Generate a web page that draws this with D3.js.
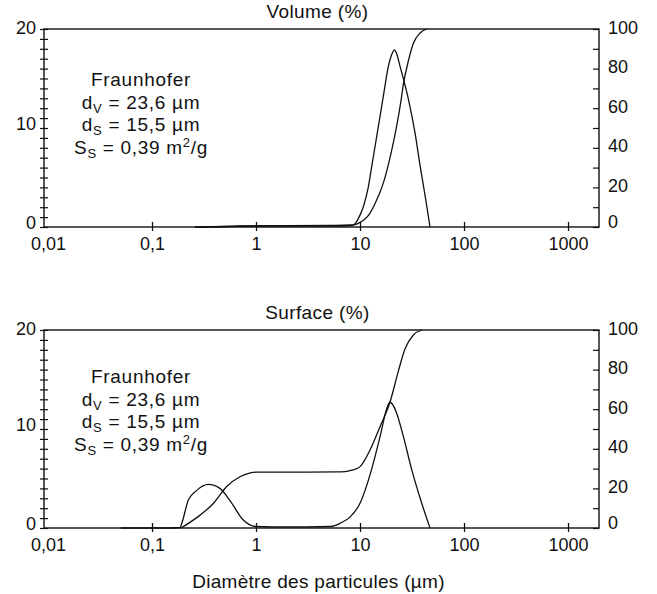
<!DOCTYPE html>
<html>
<head>
<meta charset="utf-8">
<script src="https://cdn.jsdelivr.net/npm/d3@7"></script>
<style>
	body { margin: 0; background: #fff; }
	svg text { font-family: "Liberation Sans", Arial, Helvetica, sans-serif; fill: #111; }
</style>
</head>
<body>
<div id="graphic"></div>
<script>
// particle diameter (µm) and values

// Volume panel - frequency (left axis, %)
const volFreqSize = [0.26, 0.5, 0.7, 1, 3, 7, 8.6, 10, 10.8, 12, 12.9, 14.5, 16.8, 18.7, 20.5, 21.4, 22.5, 24.3, 29.2, 33.8, 37.8, 42.8, 47.1];
const volFreqValue = [0, 0.05, 0.1, 0.1, 0.1, 0.1, 0.2, 1.2, 2.1, 4, 6.0, 9.2, 13.3, 16.2, 17.6, 17.9, 17.5, 16.2, 12.9, 9.5, 6.2, 2.8, 0];

// Volume panel - cumulative (right axis, %)
const volCumSize = [0.26, 1, 5, 8, 9.3, 10.5, 12, 14, 16.8, 20.2, 22.5, 24.8, 26.1, 29.2, 32.6, 37.8, 43.8];
const volCumValue = [0, 0.5, 0.8, 1, 1.5, 3, 5.7, 12, 22.4, 39, 51, 64, 72, 84, 92.8, 98, 100];

// Surface panel - frequency (left axis, %)
const surfFreqSize = [0.05, 0.15, 0.186, 0.193, 0.223, 0.269, 0.348, 0.45, 0.56, 0.755, 0.98, 1.5, 3, 5.2, 6.5, 8, 10, 12.9, 15.6, 18, 19.4, 20.5, 22.5, 26.1, 31.4, 39.2, 47.1];
const surfFreqValue = [0, 0, 0.05, 0.45, 2.8, 3.8, 4.4, 4.0, 2.8, 0.8, 0.15, 0.1, 0.1, 0.15, 0.5, 1.1, 2.5, 5.9, 9.25, 12, 12.7, 12.5, 11.6, 9.25, 5.9, 2.5, 0];

// Surface panel - cumulative (right axis, %)
const surfCumSize = [0.19, 0.29, 0.389, 0.52, 0.7, 0.85, 1.01, 3, 6, 7.2, 8.5, 10, 12.5, 15.6, 19.4, 23.3, 27.1, 32.6, 39.2];
const surfCumValue = [0, 6.5, 12.4, 20.8, 25.9, 27.6, 28.2, 28.2, 28.3, 28.5, 29.3, 31, 39.5, 51.3, 63.5, 79, 90.5, 97.5, 100];

// axes
const xDomain = [0.00915, 1985];
const xTickValues = [0.01, 0.1, 1, 10, 100, 1000];
const leftTicks = d3.range(0, 21, 1);
const leftLabels = [0, 10, 20];
const rightTicks = d3.range(0, 101, 10);
const rightLabels = [0, 20, 40, 60, 80, 100];

const panelTitles = ['Volume (%)', 'Surface (%)'];
const xAxisLabel = 'Diamètre des particules (µm)';

let graphic = d3.select('#graphic');

const width = 657, height = 594;
const margin = { left: 44, right: 58 };
const chartWidth = width - margin.left - margin.right;
const chartHeight = 198;
const panelTops = [29, 330];
const noteTops = [86, 383];

let svg = graphic.append('svg')
	.attr('width', width)
	.attr('height', height);

function toPoints(sizes, values) {
	return sizes.map((s, i) => ({ d: s, v: values[i] }));
}

// write the Fraunhofer note with sub/superscripts
function addNote(g, baseY) {
	const cx = 97;
	const lh = 22.5;
	const note = g.append('g')
		.attr('font-size', 19)
		.attr('letter-spacing', 0.7)
		.attr('text-anchor', 'middle');

	note.append('text').attr('x', cx).attr('y', baseY).text('Fraunhofer');

	let t = note.append('text').attr('x', cx).attr('y', baseY + lh);
	t.append('tspan').text('d');
	t.append('tspan').attr('dy', 4).attr('font-size', 13).text('V');
	t.append('tspan').attr('dy', -4).text(' = 23,6 µm');

	t = note.append('text').attr('x', cx).attr('y', baseY + lh * 2);
	t.append('tspan').text('d');
	t.append('tspan').attr('dy', 4).attr('font-size', 13).text('S');
	t.append('tspan').attr('dy', -4).text(' = 15,5 µm');

	t = note.append('text').attr('x', cx).attr('y', baseY + lh * 3);
	t.append('tspan').text('S');
	t.append('tspan').attr('dy', 4).attr('font-size', 13).text('S');
	t.append('tspan').attr('dy', -4).text(' = 0,39 m');
	t.append('tspan').attr('dy', -7).attr('font-size', 13).text('2');
	t.append('tspan').attr('dy', 7).text('/g');
}

function drawPanel(i, freq, cum) {
	let g = svg.append('g')
		.attr('transform', `translate(${margin.left},${panelTops[i]})`);

	const x = d3.scaleLog().domain(xDomain).range([0, chartWidth]);
	const yLeft = d3.scaleLinear().domain([0, 20]).range([chartHeight, 0]);
	const yRight = d3.scaleLinear().domain([0, 100]).range([chartHeight, 0]);

	//x axis, ticks crossing the line
	let xAxis = d3.axisBottom(x)
		.tickValues(xTickValues)
		.tickSize(4)
		.tickFormat(d => String(d).replace('.', ','));

	let xg = g.append('g')
		.attr('transform', `translate(0,${chartHeight})`)
		.call(xAxis);
	xg.select('.domain').remove();
	xg.selectAll('line')
		.attr('y1', -5).attr('y2', 4)
		.attr('stroke', '#111').attr('stroke-width', 1.3)
		.attr('display', d => d === 0.01 ? 'none' : null);
	xg.selectAll('text')
		.attr('y', 22.5).attr('dy', 0)
		.attr('font-size', 18).attr('fill', '#111');

	//left axis, small ticks crossing the line
	let yAxisL = d3.axisLeft(yLeft)
		.tickValues(leftTicks)
		.tickSize(4)
		.tickFormat(d => leftLabels.includes(d) ? d : '');

	let lg = g.append('g').call(yAxisL);
	lg.select('.domain').remove();
	lg.selectAll('line').attr('x1', 4).attr('x2', -4).attr('stroke', '#111').attr('stroke-width', 1.2);
	lg.selectAll('text')
		.attr('x', -8).attr('dy', 0)
		.attr('y', d => Math.max(1, 4 - yLeft(d)))
		.attr('font-size', 18).attr('fill', '#111');

	//right axis, ticks pointing in
	let yAxisR = d3.axisRight(yRight)
		.tickValues(rightTicks)
		.tickSize(6)
		.tickFormat(d => rightLabels.includes(d) ? d : '');

	let rg = g.append('g')
		.attr('transform', `translate(${chartWidth},0)`)
		.call(yAxisR);
	rg.select('.domain').remove();
	rg.selectAll('line').attr('x2', -6).attr('stroke', '#111').attr('stroke-width', 1.2);
	rg.selectAll('text')
		.attr('x', 9).attr('dy', 0)
		.attr('y', d => d === 0 ? 0 : 4)
		.attr('font-size', 18).attr('fill', '#111');

	//frame
	g.append('rect')
		.attr('width', chartWidth)
		.attr('height', chartHeight)
		.attr('fill', 'none')
		.attr('stroke', '#111')
		.attr('stroke-width', 1.4);

	//curves
	const lineL = d3.line().curve(d3.curveMonotoneX)
		.x(d => x(d.d)).y(d => yLeft(d.v));
	const lineR = d3.line().curve(d3.curveMonotoneX)
		.x(d => x(d.d)).y(d => yRight(d.v));

	g.append('path').datum(freq)
		.attr('d', lineL)
		.attr('fill', 'none').attr('stroke', '#111').attr('stroke-width', 1.3);

	g.append('path').datum(cum)
		.attr('d', lineR)
		.attr('fill', 'none').attr('stroke', '#111').attr('stroke-width', 1.3);

	//title
	g.append('text')
		.attr('x', chartWidth / 2 - 4)
		.attr('y', -11)
		.attr('text-anchor', 'middle')
		.attr('font-size', 19)
		.attr('letter-spacing', 0.4)
		.text(panelTitles[i]);

	addNote(g, noteTops[i] - panelTops[i]);
}

drawPanel(0, toPoints(volFreqSize, volFreqValue), toPoints(volCumSize, volCumValue));
drawPanel(1, toPoints(surfFreqSize, surfFreqValue), toPoints(surfCumSize, surfCumValue));

// x axis title
svg.append('text')
	.attr('x', margin.left + chartWidth / 2 - 3)
	.attr('y', 588)
	.attr('text-anchor', 'middle')
	.attr('font-size', 19)
	.attr('letter-spacing', 0.3)
	.text(xAxisLabel);
</script>
</body>
</html>
